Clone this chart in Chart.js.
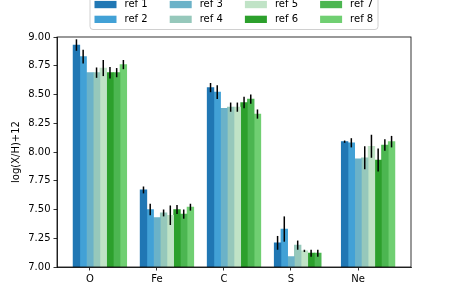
<!DOCTYPE html>
<html>
<head>
<meta charset="utf-8">
<script src="https://cdn.jsdelivr.net/npm/chart.js"></script>
<style>
  html, body { margin: 0; padding: 0; background: #fff; }
  #wrap { width: 457px; height: 305px; position: relative; }
</style>
</head>
<body>
<div id="wrap"><canvas id="chart"></canvas></div>
<script>
const CATEGORIES = ["O", "Fe", "C", "S", "Ne"];
const SERIES_NAMES = ["ref 1", "ref 2", "ref 3", "ref 4", "ref 5", "ref 6", "ref 7", "ref 8"];

// abundances per reference, in CATEGORIES order
const REF1 = [8.93, 7.67, 8.56, 7.21, 8.09];
const REF2 = [8.83, 7.50, 8.52, 7.33, 8.08];
const REF3 = [8.69, 7.43, 8.38, 7.09, 7.94];
const REF4 = [8.69, 7.47, 8.39, 7.19, 7.95];
const REF5 = [8.73, 7.45, 8.39, 7.14, 8.05];
const REF6 = [8.69, 7.50, 8.43, 7.12, 7.93];
const REF7 = [8.69, 7.46, 8.46, 7.12, 8.06];
const REF8 = [8.76, 7.52, 8.33, null, 8.09];

// symmetric uncertainties
const ERR1 = [0.05, 0.03, 0.04, 0.06, 0.01];
const ERR2 = [0.06, 0.05, 0.06, 0.11, 0.04];
const ERR3 = [0, 0, 0, 0, 0];
const ERR4 = [0.045, 0.03, 0.04, 0.04, 0.10];
const ERR5 = [0.07, 0.085, 0.04, 0.01, 0.10];
const ERR6 = [0.05, 0.04, 0.05, 0.03, 0.10];
const ERR7 = [0.04, 0.04, 0.04, 0.03, 0.05];
const ERR8 = [0.04, 0.03, 0.04, 0, 0.05];

const Y_TICKS = [7.0, 7.25, 7.5, 7.75, 8.0, 8.25, 8.5, 8.75, 9.0];

const COLORS = ["#2077b4", "#42a1d6", "#6bb2c8", "#96c8bb", "#c0e3c6", "#2ca02c", "#4cb651", "#70cf72"];

const VALUES = [REF1, REF2, REF3, REF4, REF5, REF6, REF7, REF8];
const ERRORS = [ERR1, ERR2, ERR3, ERR4, ERR5, ERR6, ERR7, ERR8];

const BAR_W = 0.1;   // bar width in category units
const FONT = "DejaVu Sans";

Chart.defaults.font.family = FONT;
Chart.defaults.font.size = 10;
Chart.defaults.color = "#000";

const datasets = SERIES_NAMES.map((name, s) => ({
  label: name,
  data: CATEGORIES.map((c, i) => ({ x: i + (s - 2) * BAR_W, y: VALUES[s][i] })),
  errors: ERRORS[s],
  backgroundColor: COLORS[s],
  borderWidth: 0,
  grouped: false,
  barPercentage: 1,
  categoryPercentage: 1,
}));

const errorBars = {
  id: "errorBars",
  afterDatasetsDraw(chart) {
    const ctx = chart.ctx;
    const y = chart.scales.y;
    ctx.save();
    ctx.strokeStyle = "#000";
    ctx.lineWidth = 1.5;
    chart.data.datasets.forEach((ds, s) => {
      const meta = chart.getDatasetMeta(s);
      meta.data.forEach((bar, i) => {
        const v = VALUES[s][i];
        const e = ds.errors[i];
        if (v == null || !e) return;
        ctx.beginPath();
        ctx.moveTo(bar.x, y.getPixelForValue(v - e));
        ctx.lineTo(bar.x, y.getPixelForValue(v + e));
        ctx.stroke();
      });
    });
    ctx.restore();
  },
};

const frame = {
  id: "frame",
  afterDraw(chart) {
    const { ctx, chartArea: a } = chart;
    ctx.save();
    ctx.strokeStyle = "#000";
    ctx.lineWidth = 0.8;
    ctx.strokeRect(a.left, a.top, a.right - a.left, a.bottom - a.top);
    ctx.restore();
  },
};

// 4 columns x 2 rows legend, column-major like matplotlib ncol=4
const legendBox = {
  id: "legendBox",
  afterDraw(chart) {
    const ctx = chart.ctx;
    const left = 90, right = 378, top = -12, bottom = 29.5, r = 3;
    ctx.save();
    ctx.beginPath();
    ctx.moveTo(left + r, top);
    ctx.lineTo(right - r, top);
    ctx.arcTo(right, top, right, top + r, r);
    ctx.lineTo(right, bottom - r);
    ctx.arcTo(right, bottom, right - r, bottom, r);
    ctx.lineTo(left + r, bottom);
    ctx.arcTo(left, bottom, left, bottom - r, r);
    ctx.lineTo(left, top + r);
    ctx.arcTo(left, top, left + r, top, r);
    ctx.closePath();
    ctx.fillStyle = "rgba(255,255,255,0.8)";
    ctx.fill();
    ctx.strokeStyle = "#d0d0d0";
    ctx.lineWidth = 1;
    ctx.stroke();
    ctx.font = "10px " + FONT;
    ctx.textBaseline = "middle";
    ctx.fillStyle = "#000";
    SERIES_NAMES.forEach((name, s) => {
      const col = Math.floor(s / 2), row = s % 2;
      const x = 94.5 + col * 75.2;
      const yc = 4.5 + row * 14.8;
      ctx.fillStyle = COLORS[s];
      ctx.fillRect(x, yc - 3.6, 22, 7.3);
      ctx.fillStyle = "#000";
      ctx.fillText(name, x + 30, yc);
    });
    ctx.restore();
  },
};

new Chart(document.getElementById("chart"), {
  type: "bar",
  data: { datasets },
  plugins: [errorBars, frame, legendBox],
  options: {
    responsive: true,
    maintainAspectRatio: false,
    animation: false,
    layout: { padding: { left: 0, top: 37, right: 46, bottom: 0 } },
    plugins: { legend: { display: false }, tooltip: { enabled: false } },
    scales: {
      x: {
        type: "linear",
        min: -0.49,
        max: 4.79,
        offset: false,
        grid: { offset: false, drawOnChartArea: false, tickLength: 3.5, color: "#000", lineWidth: 0.8 },
        border: { color: "#000", width: 0.8 },
        afterBuildTicks: (scale) => {
          scale.ticks = CATEGORIES.map((c, i) => ({ value: i }));
        },
        ticks: {
          autoSkip: false,
          maxRotation: 0,
          padding: 3,
          callback: (v) => CATEGORIES[v],
        },
        afterFit: (scale) => { scale.height = 38; },
      },
      y: {
        min: 7,
        max: 9,
        grid: { drawOnChartArea: false, tickLength: 3.5, color: "#000", lineWidth: 0.8 },
        border: { color: "#000", width: 0.8 },
        afterBuildTicks: (scale) => {
          scale.ticks = Y_TICKS.map((v) => ({ value: v }));
        },
        ticks: { padding: 3, callback: (v) => Number(v).toFixed(2) },
        title: { display: true, text: "log(X/H)+12", padding: { top: 10, bottom: 0 } },
        afterFit: (scale) => { scale.width = 57; },
      },
    },
  },
});
</script>
</body>
</html>
